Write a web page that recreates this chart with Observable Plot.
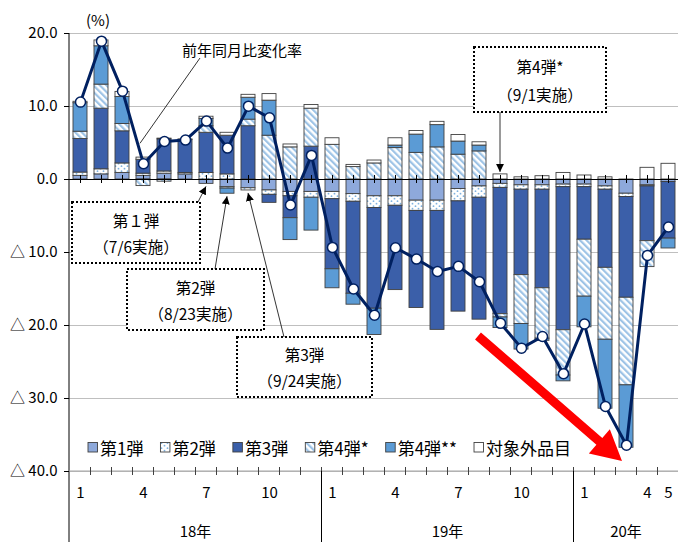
<!DOCTYPE html>
<html>
<head>
<meta charset="utf-8">
<script src="https://cdn.jsdelivr.net/npm/d3@7"></script>
<script src="https://cdn.jsdelivr.net/npm/@observablehq/plot@0.6"></script>
<style>
  html, body { margin: 0; padding: 0; background: #fff; }
  #chart { position: relative; width: 678px; height: 542px; overflow: hidden; }
  #chart svg { display: block; }
</style>
</head>
<body>
<div id="chart"></div>
<script>
// Months shown (2018/1 – 2020/5)
const months = [
  "18/1","18/2","18/3","18/4","18/5","18/6","18/7","18/8","18/9","18/10","18/11","18/12",
  "19/1","19/2","19/3","19/4","19/5","19/6","19/7","19/8","19/9","19/10","19/11","19/12",
  "20/1","20/2","20/3","20/4","20/5"
];
const monthTickValues = ["18/1","18/4","18/7","18/10","19/1","19/4","19/7","19/10","20/1","20/4","20/5"];
const yearLabels = ["18年", "19年", "20年"];
const yearStarts = ["18/1", "19/1", "20/1"];
const seriesNames = ["第1弾", "第2弾", "第3弾", "第4弾*", "第4弾**", "対象外品目"];
const yTicks = [-40, -30, -20, -10, 0, 10, 20];

// Contributions by tariff round (% points)
const round1 = [0.5, 0.7, 0.9, 0.5, 0.8, 0.7, -0.6, -1.05, -1.2, -1.5, -1.7, -1.7,
  -1.7, -2.0, -2.3, -2.3, -2.9, -2.9, -1.3, -0.95, -0.6, -0.8, -0.8, -0.7,
  -0.7, -0.95, -1.95, -0.8, -0.35];
const round2 = [0.45, 0.7, 1.3, 0.3, 0.3, 0.2, 0.9, 0.7, -0.3, -0.6, -0.6, -0.8,
  -1.0, -1.05, -1.6, -1.3, -1.4, -1.4, -1.7, -1.55, -0.55, -0.6, -0.6, -0.35,
  -0.35, -0.45, -0.45, -0.15, 0];
const round3 = [4.6, 8.3, 4.4, 1.9, 4.4, 4.5, 5.5, 5.3, 7.3, -1.1, -3.0, 4.5,
  -9.6, -12.6, -13.8, -11.55, -13.3, -16.3, -15.1, -16.7, -17.3, -11.7, -13.5, -19.6,
  -7.2, -10.7, -13.8, -7.5, -7.75];
const round4a = [1.0, 3.3, 1.0, -0.9, -0.3, 0, 0.9, -0.2, 0.9, 6.0, 4.4, 5.2,
  4.75, 1.7, 2.2, 4.3, 3.65, 4.4, 3.4, 3.85, -0.45, -6.7, -6.9, -6.2,
  -7.8, -9.85, -12.0, -3.55, 0];
const round4b = [3.9, 5.25, 3.7, 0, 0, 0, 1.0, -0.7, 3.0, 4.8, -3.0, -4.5,
  -2.6, -1.5, -3.6, 0.35, 2.5, 3.05, 1.8, 0.8, -1.45, -3.5, -0.3, -0.8,
  -4.2, -9.45, -8.55, 0, -1.35];
const excluded = [0.2, 0.8, 0.7, 0.3, 0.1, 0.1, 0.3, 0.4, 0.4, 0.9, 0.4, 0.5,
  0.9, 0.3, 0.4, 1.0, 0.5, 0.45, 0.9, 0.45, 0.7, 0.3, 0.45, 0.9,
  0.55, 0.3, 0, 1.6, 2.15];

// Year-on-year change (%)
const yoyRate = [10.6, 18.95, 12.1, 2.15, 5.2, 5.4, 8.0, 4.3, 10.05, 8.45, -3.5, 3.3,
  -9.3, -15.0, -18.6, -9.35, -10.9, -12.6, -11.9, -14.0, -19.7, -23.1, -21.5, -26.6,
  -19.8, -31.1, -36.4, -10.4, -6.5];

const seriesValues = [round1, round2, round3, round4a, round4b, excluded];
const seriesFill = {
  "第1弾": "#8EA9DB",
  "第2弾": "url(#dotsFill)",
  "第3弾": "#3B5FA9",
  "第4弾*": "url(#hatchFill)",
  "第4弾**": "#5B9BD5",
  "対象外品目": "#ffffff"
};

const stackRows = seriesNames.flatMap((s, k) =>
  months.map((m, i) => ({month: m, series: s, value: seriesValues[k][i]})));
const rateRows = months.map((m, i) => ({month: m, rate: yoyRate[i]}));

const FONT = "'Noto Sans CJK JP', 'Noto Sans', sans-serif";
const fmtY = d => d < 0 ? "△ " + Math.abs(d).toFixed(1) : d.toFixed(1);

const chart = Plot.plot({
  width: 678,
  height: 542,
  marginTop: 33,
  marginBottom: 71,
  marginLeft: 69,
  marginRight: 0,
  style: {fontFamily: FONT, fontSize: "14px", color: "#000", background: "#fff", overflow: "visible"},
  x: {domain: months, range: [69, 680], paddingInner: 0.32, paddingOuter: 0.16, axis: null},
  y: {domain: [-40, 20], axis: null},
  color: {type: "identity"},
  marks: [
    Plot.gridY(yTicks.filter(d => d !== 0), {stroke: "#bfbfbf", strokeOpacity: 1, strokeWidth: 1.2}),
    Plot.barY(stackRows, {
      x: "month", y: "value",
      fill: d => seriesFill[d.series],
      stroke: "#404040", strokeWidth: 0.9
    }),
    Plot.ruleY([0], {stroke: "#000", strokeWidth: 1.2}),
    Plot.ruleX(months, {x: d => d, y1: -0.55, y2: 0.55, stroke: "#000", strokeWidth: 1}),
    Plot.line(rateRows, {x: "month", y: "rate", stroke: "#002060", strokeWidth: 3}),
    Plot.dot(rateRows, {x: "month", y: "rate", r: 5, fill: "#fff", stroke: "#002060", strokeWidth: 1.5}),
    Plot.axisY({ticks: yTicks, tickFormat: fmtY, tickSize: 5, tickPadding: 7, fontSize: 15, label: null}),
    Plot.axisX({ticks: monthTickValues, tickFormat: d => d.split("/")[1], tickSize: 0, tickPadding: 16, fontSize: 15, label: null})
  ]
});

document.getElementById("chart").appendChild(chart);

const xs = chart.scale("x");
const ys = chart.scale("y");
const svg = d3.select(chart);
const step = xs.step;
const bw = xs.bandwidth;
const center = m => xs.apply(m) + bw / 2;
const boundary = i => xs.apply(months[0]) - (step - bw) / 2 + i * step;
const yBottom = ys.apply(-40);
const yTop = ys.apply(20);

// Pattern fills
const defs = svg.insert("defs", ":first-child");
const hatch = defs.append("pattern")
  .attr("id", "hatchFill").attr("patternUnits", "userSpaceOnUse")
  .attr("width", 4.6).attr("height", 4.6).attr("patternTransform", "rotate(-45)");
hatch.append("rect").attr("width", 4.6).attr("height", 4.6).attr("fill", "#fff");
hatch.append("rect").attr("width", 2.2).attr("height", 4.6).attr("fill", "#9DC3E6");
const dots = defs.append("pattern")
  .attr("id", "dotsFill").attr("patternUnits", "userSpaceOnUse")
  .attr("width", 6).attr("height", 5);
dots.append("rect").attr("width", 6).attr("height", 5).attr("fill", "#fff");
dots.append("circle").attr("cx", 1.5).attr("cy", 1.2).attr("r", 0.9).attr("fill", "#7FB2E0");
dots.append("circle").attr("cx", 4.5).attr("cy", 3.7).attr("r", 0.9).attr("fill", "#7FB2E0");
const arrow = defs.append("marker")
  .attr("id", "arrowHead").attr("viewBox", "0 0 10 10")
  .attr("refX", 10).attr("refY", 5)
  .attr("markerWidth", 8).attr("markerHeight", 8)
  .attr("markerUnits", "userSpaceOnUse").attr("orient", "auto");
arrow.append("path").attr("d", "M0,0L10,5L0,10z").attr("fill", "#000");

const g = svg.append("g").attr("text-anchor", "start");

// Axis lines, boundary ticks and year separators
g.append("line").attr("x1", xs.range[0]).attr("x2", xs.range[0])
  .attr("y1", yTop).attr("y2", 542).attr("stroke", "#000").attr("stroke-width", 1);
g.append("line").attr("x1", xs.range[0]).attr("x2", 680)
  .attr("y1", yBottom).attr("y2", yBottom).attr("stroke", "#a6a6a6").attr("stroke-width", 1.2);
for (let i = 1; i <= months.length; i++) {
  g.append("line").attr("x1", boundary(i)).attr("x2", boundary(i))
    .attr("y1", yBottom - 4).attr("y2", yBottom + 4).attr("stroke", "#404040");
}
yearStarts.forEach((m, k) => {
  const i = months.indexOf(m);
  const j = k + 1 < yearStarts.length ? months.indexOf(yearStarts[k + 1]) : months.length;
  const xL = boundary(i), xR = boundary(j);
  if (i > 0) {
    g.append("line").attr("x1", xL).attr("x2", xL).attr("y1", yBottom).attr("y2", 542)
      .attr("stroke", "#000").attr("stroke-width", 1);
  }
  g.append("text").attr("x", (xL + Math.min(xR, 680)) / 2).attr("y", 530)
    .attr("text-anchor", "middle").attr("dominant-baseline", "central")
    .attr("font-family", FONT).attr("font-size", 15).text(yearLabels[k]);
});

// Unit label
g.append("text").attr("x", 98).attr("y", 19).attr("text-anchor", "middle")
  .attr("dominant-baseline", "central").attr("font-family", FONT).attr("font-size", 15).text("(%)");

// Stack extents for arrow targets
const posSum = i => seriesValues.reduce((a, s) => a + Math.max(0, s[i]), 0);
const negSum = i => seriesValues.reduce((a, s) => a + Math.min(0, s[i]), 0);

// Leader for the line series
g.append("line").attr("x1", 200).attr("y1", 58).attr("x2", center("18/4") - 3).attr("y2", ys.apply(yoyRate[3]) - 20)
  .attr("stroke", "#000").attr("stroke-width", 0.8);
g.append("text").attr("x", 242).attr("y", 49).attr("text-anchor", "middle")
  .attr("dominant-baseline", "central").attr("font-family", FONT).attr("font-size", 15).text("前年同月比変化率");

// Callout boxes
function callout(box, lines, from, toMonth, toTop) {
  const i = months.indexOf(toMonth);
  const tx = center(toMonth);
  const ty = toTop ? ys.apply(posSum(i)) - 2 : ys.apply(negSum(i)) + 3;
  g.append("line").attr("x1", from[0]).attr("y1", from[1]).attr("x2", tx).attr("y2", ty)
    .attr("stroke", "#000").attr("stroke-width", 0.8).attr("marker-end", "url(#arrowHead)");
  g.append("rect").attr("x", box[0]).attr("y", box[1]).attr("width", box[2]).attr("height", box[3])
    .attr("fill", "#fff").attr("stroke", "#000").attr("stroke-width", 2).attr("stroke-dasharray", "2,2");
  lines.forEach((t, k) => {
    g.append("text").attr("x", box[0] + box[2] / 2).attr("y", box[1] + box[3] * (k === 0 ? 0.29 : 0.72))
      .attr("text-anchor", "middle").attr("dominant-baseline", "central")
      .attr("font-family", FONT).attr("font-size", 15.5).text(t);
  });
}
callout([72, 202, 128, 61], ["第１弾", "（7/6実施）"], [198, 202], "18/7", false);
callout([127, 269, 137, 61], ["第2弾", "（8/23実施）"], [215, 269], "18/8", false);
callout([237, 337, 135, 60], ["第3弾", "（9/24実施）"], [284, 337], "18/9", false);
callout([474, 47, 132, 65], ["第4弾*", "（9/1実施）"], [500, 112], "19/9", true);

// Red trend arrow
(function () {
  const S = [478, 336], T = [622, 461];
  const dx = T[0] - S[0], dy = T[1] - S[1], L = Math.hypot(dx, dy);
  const u = [dx / L, dy / L], n = [-u[1], u[0]];
  const hw = 4.5, headL = 30, headW = 16;
  const B = [T[0] - u[0] * headL, T[1] - u[1] * headL];
  const p = (P, k) => [P[0] + n[0] * k, P[1] + n[1] * k];
  const pts = [p(S, hw), p(B, hw), p(B, headW), T, p(B, -headW), p(B, -hw), p(S, -hw)];
  g.append("polygon").attr("points", pts.map(q => q.join(",")).join(" ")).attr("fill", "#ff0000");
})();

// Legend
(function () {
  const lg = g.append("g").attr("transform", "translate(88,447)").attr("text-anchor", "start");
  let x = 0;
  seriesNames.forEach(s => {
    lg.append("rect").attr("x", x).attr("y", -4.5).attr("width", 9.5).attr("height", 9.5)
      .attr("fill", seriesFill[s]).attr("stroke", "#404040").attr("stroke-width", 0.9);
    const t = lg.append("text").attr("x", x + 12).attr("y", 0.5).attr("dominant-baseline", "central")
      .attr("text-anchor", "start")
      .attr("font-family", FONT).attr("font-size", 17).text(s);
    x += 12 + t.node().getComputedTextLength() + 17;
  });
})();
</script>
</body>
</html>
